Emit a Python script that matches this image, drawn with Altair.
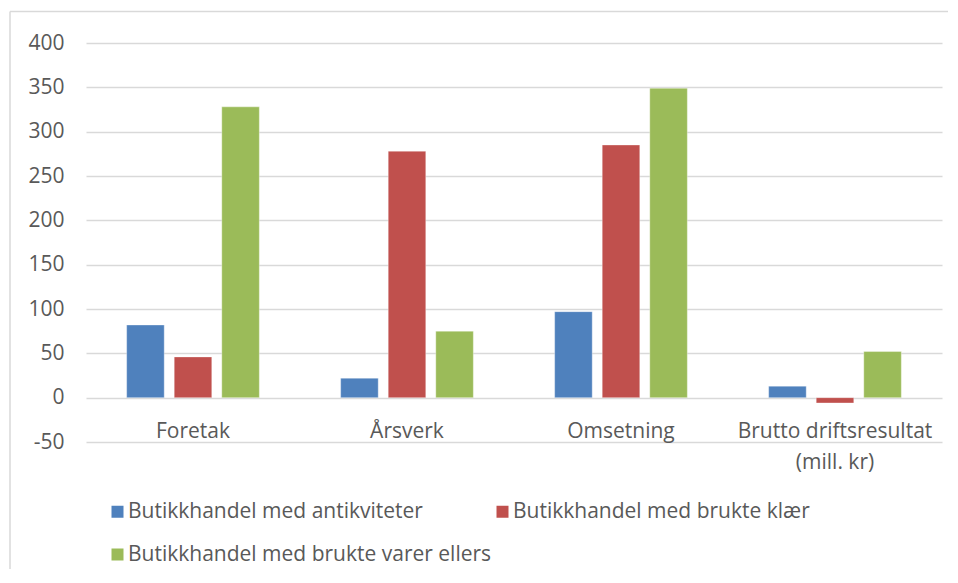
import altair as alt
import pandas as pd

categories = ["Foretak", "Årsverk", "Omsetning", "Brutto driftsresultat|(mill. kr)"]
series = [
    "Butikkhandel med antikviteter",
    "Butikkhandel med brukte klær",
    "Butikkhandel med brukte varer ellers",
]
antikviteter = [82, 22, 97, 13]
brukte_klaer = [46, 278, 285, -6]
varer_ellers = [328, 75, 349, 52]
colors = ["#4F81BD", "#C0504D", "#9BBB59"]
y_ticks = [-50, 0, 50, 100, 150, 200, 250, 300, 350, 400]

rows = []
for s, vals in zip(series, [antikviteter, brukte_klaer, varer_ellers]):
    for c, v in zip(categories, vals):
        rows.append({"Kategori": c, "Serie": s, "Verdi": v})
df = pd.DataFrame(rows)

FONT = "Open Sans"
FS = 21
LABEL_COLOR = "#595959"
GRID = "#D9D9D9"

bars = alt.Chart(df).mark_bar(stroke="white", strokeWidth=0.6, strokeOpacity=0.6).encode(
    x=alt.X(
        "Kategori:N",
        sort=categories,
        scale=alt.Scale(paddingInner=0.38, paddingOuter=0.19),
        axis=alt.Axis(
            title=None,
            labelAngle=0,
            domain=False,
            ticks=False,
            labelPadding=-22,
            labelExpr="split(datum.label, '|')",
            labelLineHeight=31,
            labelFontSize=FS,
            labelColor=LABEL_COLOR,
            labelFont=FONT,
            labelLimit=400,
            labelBaseline="top",
        ),
    ),
    xOffset=alt.XOffset("Serie:N", sort=series, scale=alt.Scale(paddingInner=0.21, paddingOuter=0)),
    y=alt.Y(
        "Verdi:Q",
        scale=alt.Scale(domain=[-50, 400], nice=False),
        axis=alt.Axis(
            title=None,
            values=y_ticks,
            domain=False,
            ticks=False,
            labelPadding=22,
            labelExpr="toString(datum.value)",
            labelFontSize=FS,
            labelColor=LABEL_COLOR,
            labelFont=FONT,
            gridColor=GRID,
            gridWidth=1.6,
        ),
    ),
    color=alt.Color(
        "Serie:N",
        sort=series,
        scale=alt.Scale(domain=series, range=colors),
        legend=alt.Legend(
            title=None,
            orient="none",
            legendX=21,
            legendY=458,
            direction="horizontal",
            columns=2,
            columnPadding=0,
            rowPadding=21,
            symbolType="square",
            symbolSize=144,
            symbolStrokeWidth=0,
            labelOffset=0,
            labelFontSize=FS,
            labelColor=LABEL_COLOR,
            labelFont=FONT,
            labelLimit=500,
        ),
    ),
)

frame = pd.DataFrame([{"k": 1}])
top_line = alt.Chart(frame).mark_rule(color="#D9D9D9", strokeWidth=1.5).encode(
    x=alt.value(-76), x2=alt.value(862), y=alt.value(-31.5)
)
left_line = alt.Chart(frame).mark_rule(color="#D9D9D9", strokeWidth=1.5).encode(
    x=alt.value(-76), y=alt.value(-31.5), y2=alt.value(526)
)

chart = (
    alt.layer(bars, top_line, left_line)
    .properties(
        width=856,
        height=399,
        padding={"left": 1, "top": 2, "right": 0, "bottom": 0},
        background="white",
    )
    .configure_view(stroke=None)
)

chart.save("out.html", embed_options={"renderer": "svg", "actions": False})
